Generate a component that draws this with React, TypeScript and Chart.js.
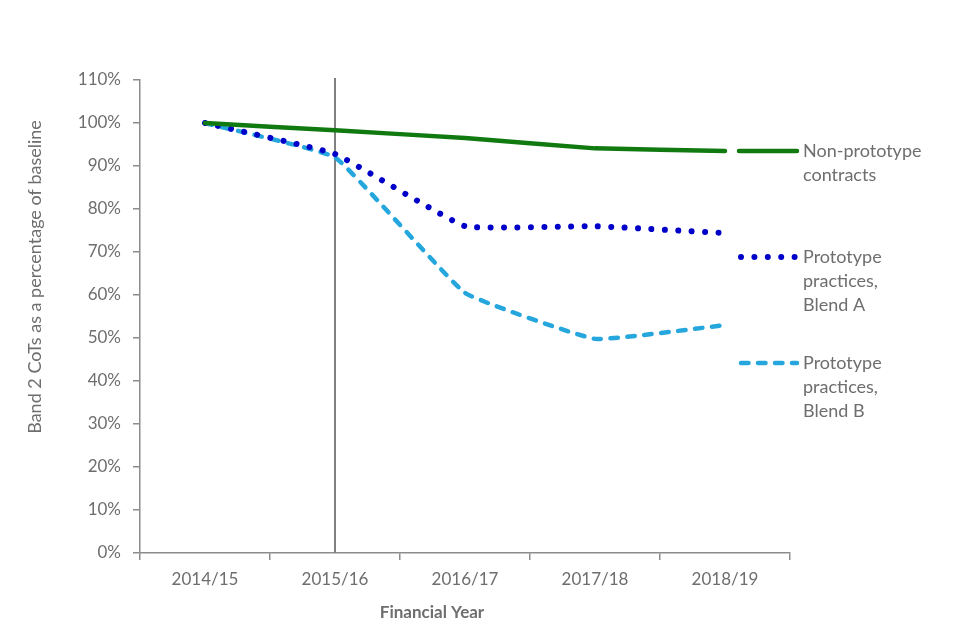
import React, { useEffect, useRef } from 'react';
import { Chart, registerables } from 'chart.js';

Chart.register(...registerables);

const categories = ['2014/15', '2015/16', '2016/17', '2017/18', '2018/19'];
const nonPrototype = [100, 98.3, 96.5, 94.1, 93.5];
const blendA = [100, 92.8, 76.0, 76.0, 74.4];
const blendB = [100, 92.0, 60.5, 49.8, 53.0];
const yTickValues = [0, 10, 20, 30, 40, 50, 60, 70, 80, 90, 100, 110];
const seriesNames = ['Non-prototype contracts', 'Prototype practices, Blend A', 'Prototype practices, Blend B'];
const legendLines = [['Non-prototype', 'contracts'], ['Prototype', 'practices,', 'Blend A'], ['Prototype', 'practices,', 'Blend B']];
const markerCategory = '2015/16';
const xTitle = 'Financial Year';
const yTitle = 'Band 2 CoTs as a percentage of baseline';

const GREEN = '#107a10';
const BLUE = '#0000c8';
const LIGHT = '#25a6dc';
const AXIS = '#8c8c8c';
const TEXT = '#6e6e6e';
const FONT = 'Lato, "Open Sans", sans-serif';

const styles = [
  { color: GREEN, width: 4.5, dash: [] as number[], cap: 'round' as CanvasLineCap },
  { color: BLUE, width: 6, dash: [0.001, 13.4], cap: 'round' as CanvasLineCap },
  { color: LIGHT, width: 4.5, dash: [7.5, 9.5], cap: 'round' as CanvasLineCap },
];

const overlay = {
  id: 'overlay',
  beforeDatasetsDraw(chart: any) {
    const { ctx, chartArea, scales } = chart;
    const x = scales.x.getPixelForValue(categories.indexOf(markerCategory));
    ctx.save();
    ctx.strokeStyle = '#808080';
    ctx.lineWidth = 2;
    ctx.beginPath();
    ctx.moveTo(x, chartArea.top - 2);
    ctx.lineTo(x, chartArea.bottom);
    ctx.stroke();
    ctx.restore();
  },
  afterDraw(chart: any) {
    const { ctx, chartArea } = chart;
    ctx.save();
    ctx.fillStyle = TEXT;
    ctx.textAlign = 'center';
    ctx.textBaseline = 'middle';
    ctx.font = `bold 17px ${FONT}`;
    ctx.fillText(xTitle, 432, 613);
    ctx.save();
    ctx.translate(35, 277);
    ctx.rotate(-Math.PI / 2);
    ctx.font = `18px ${FONT}`;
    ctx.fillText(yTitle, 0, 0);
    ctx.restore();
    const x0 = chartArea.right - 51;
    const x1 = chartArea.right + 7;
    const startY = chart.scales.y.getPixelForValue(nonPrototype[nonPrototype.length - 1]);
    legendLines.forEach((lines, i) => {
      const y = startY + i * 106;
      const s = styles[i];
      ctx.save();
      ctx.strokeStyle = s.color;
      ctx.lineWidth = s.width;
      ctx.lineCap = s.cap;
      ctx.setLineDash(s.dash);
      ctx.beginPath();
      ctx.moveTo(i === 0 ? x0 : x0 + 2, y);
      ctx.lineTo(x1, y);
      ctx.stroke();
      ctx.restore();
      ctx.fillStyle = TEXT;
      ctx.textAlign = 'left';
      ctx.textBaseline = 'middle';
      ctx.font = `18px ${FONT}`;
      lines.forEach((t, j) => ctx.fillText(t, x1 + 6, y + j * 24));
    });
    ctx.restore();
  },
};

export default function App() {
  const ref = useRef<HTMLCanvasElement>(null);
  useEffect(() => {
    if (!ref.current) return;
    const data = [nonPrototype, blendA, blendB];
    const chart = new Chart(ref.current, {
      type: 'line',
      data: {
        labels: categories,
        datasets: data.map((d, i) => ({
          label: seriesNames[i],
          data: d,
          borderColor: styles[i].color,
          borderWidth: styles[i].width,
          borderDash: styles[i].dash,
          borderCapStyle: styles[i].cap,
          borderJoinStyle: 'round',
          pointRadius: 0,
          pointHoverRadius: 0,
          tension: 0.1,
          fill: false,
        })),
      },
      options: {
        responsive: false,
        animation: false,
        layout: { padding: { top: 80, right: 170, bottom: 0, left: 0 } },
        plugins: { legend: { display: false }, tooltip: { enabled: false }, title: { display: false } },
        scales: {
          x: {
            type: 'category',
            offset: true,
            grid: { offset: true, drawOnChartArea: false, drawTicks: true, tickLength: 7, color: AXIS, lineWidth: 1.5 },
            border: { color: AXIS, width: 1.5 },
            ticks: { color: TEXT, font: { family: FONT, size: 17 }, padding: 9, maxRotation: 0 },
            afterFit: (s: any) => { s.height = 87; },
          },
          y: {
            min: 0,
            max: 110,
            afterBuildTicks: (s: any) => { s.ticks = yTickValues.map((v) => ({ value: v })); },
            grid: { drawOnChartArea: false, drawTicks: true, tickLength: 7, color: AXIS, lineWidth: 1.5 },
            border: { color: AXIS, width: 1.5 },
            ticks: { color: TEXT, font: { family: FONT, size: 17 }, padding: 12, callback: (v: any) => `${v}%` },
            afterFit: (s: any) => { s.width = 140; },
          },
        },
      },
      plugins: [overlay],
    });
    return () => chart.destroy();
  }, []);
  return (
    <div style={{ position: 'fixed', left: 0, top: 0, width: 960, height: 640, background: '#fff' }}>
      <canvas ref={ref} width={960} height={640} style={{ display: 'block' }} />
    </div>
  );
}
